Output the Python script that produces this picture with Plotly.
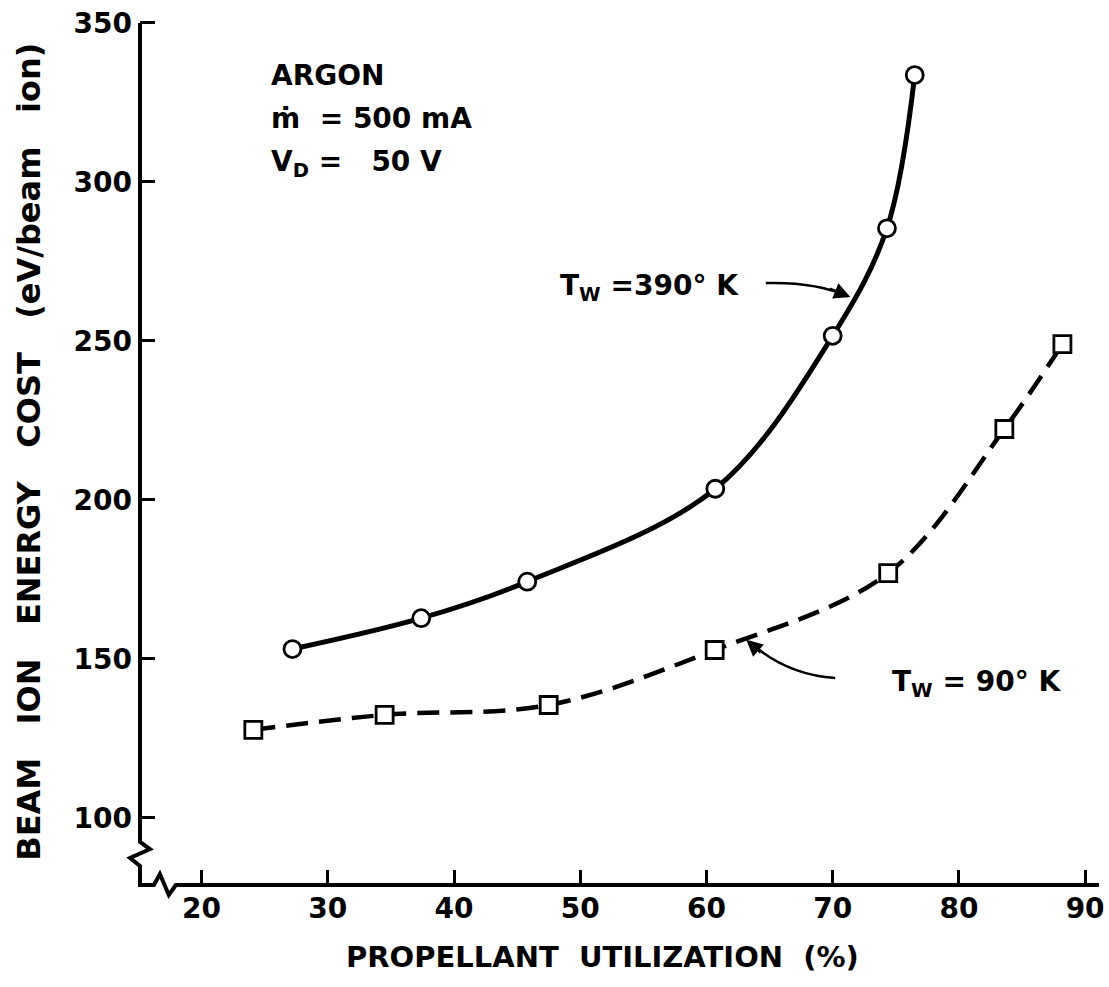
import plotly.graph_objects as go

# ---- data ----
tw390_util = [27.2, 37.4, 45.8, 60.7, 70.0, 74.3, 76.5]
tw390_cost = [153.1, 162.8, 174.3, 203.5, 251.6, 285.4, 333.6]
tw90_util = [24.1, 34.5, 47.5, 60.65, 74.4, 83.6, 88.2]
tw90_cost = [127.7, 132.4, 135.5, 152.8, 177.0, 222.3, 249.0]
x_ticks = [20, 30, 40, 50, 60, 70, 80, 90]
y_ticks = [100, 150, 200, 250, 300, 350]

# ---- layout geometry ----
W, H = 1109, 987
L, R, T, B = 140, 4, 7, 102
X_RANGE = [15.12, 91.1]
Y_RANGE = [78.9, 355.0]
PW, PH = W - L - R, H - T - B
FONT = "DejaVu Sans"
INK = "black"


def pxp(x):  # pixel -> paper x
    return (x - L) / PW


def pyp(y):  # pixel -> paper y
    return (H - B - y) / PH


fig = go.Figure()

fig.add_trace(go.Scatter(
    x=tw390_util, y=tw390_cost, mode="lines+markers",
    line=dict(color=INK, width=5, shape="spline", smoothing=1.0),
    marker=dict(symbol="circle", size=17, color="white",
                line=dict(color=INK, width=2.8)),
    showlegend=False))

fig.add_trace(go.Scatter(
    x=tw90_util, y=tw90_cost, mode="lines+markers",
    line=dict(color=INK, width=4.5, shape="spline", smoothing=1.0, dash="22px,11px"),
    marker=dict(symbol="square", size=17, color="white",
                line=dict(color=INK, width=2.8)),
    showlegend=False))

# axis lines with break marks
ax_pts = [(140, 23), (140, 842), (150, 849), (130, 858), (140, 866), (140, 885),
          (154, 885), (160, 874), (169, 895), (176, 885), (1105, 885)]
path = "M " + " L ".join(f"{pxp(a):.5f},{pyp(b):.5f}" for a, b in ax_pts)
shapes = [dict(type="path", xref="paper", yref="paper", path=path,
               line=dict(color=INK, width=4), layer="above")]

# curved leader lines
shapes.append(dict(type="path", xref="x", yref="y",
                   path="M 64.7,268.2 Q 68.7,268.6 71.2,264.0",
                   line=dict(color=INK, width=2.5)))
shapes.append(dict(type="path", xref="x", yref="y",
                   path="M 70.2,144.0 Q 66.3,145.0 63.4,155.4",
                   line=dict(color=INK, width=2.5)))

tf = dict(family=FONT, size=28, color=INK, weight="bold")
ann = []
ann.append(dict(x=71.4, y=263.8, ax=-22, ay=-9, text="", showarrow=True,
                arrowhead=2, arrowsize=1.3, arrowwidth=2.5, arrowcolor=INK))
ann.append(dict(x=63.15, y=156.0, ax=16, ay=14, text="", showarrow=True,
                arrowhead=2, arrowsize=1.3, arrowwidth=2.5, arrowcolor=INK))

ann.append(dict(xref="paper", yref="paper", x=pxp(270), y=pyp(76), xanchor="left",
                yanchor="middle", text="ARGON", showarrow=False, font=tf))
ann.append(dict(xref="paper", yref="paper", x=pxp(270), y=pyp(118), xanchor="left",
                yanchor="middle", text="ṁ  = 500 mA", showarrow=False, font=tf))
ann.append(dict(xref="paper", yref="paper", x=pxp(270), y=pyp(163), xanchor="left",
                yanchor="middle", text="V<sub>D</sub> =   50 V", showarrow=False, font=tf))
ann.append(dict(xref="paper", yref="paper", x=pxp(561), y=pyp(288), xanchor="left",
                yanchor="middle", text="T<sub>W</sub> =390° K", showarrow=False, font=tf))
ann.append(dict(xref="paper", yref="paper", x=pxp(895), y=pyp(683), xanchor="left",
                yanchor="middle", text="T<sub>W</sub> = 90° K", showarrow=False, font=tf))

# axis titles
ann.append(dict(xref="paper", yref="paper", x=pxp(605), y=pyp(957), xanchor="center",
                yanchor="middle", text="PROPELLANT  UTILIZATION  (%)", showarrow=False,
                font=dict(family=FONT, size=29, color=INK, weight="bold")))
ann.append(dict(xref="paper", yref="paper", x=pxp(28), y=pyp(452), xanchor="center",
                yanchor="middle", textangle=-90,
                text="BEAM   ION   ENERGY   COST   (eV/beam   ion)", showarrow=False,
                font=dict(family=FONT, size=32, color=INK, weight="bold")))

fig.update_layout(
    width=W, height=H,
    margin=dict(l=L, r=R, t=T, b=B),
    paper_bgcolor="white", plot_bgcolor="white",
    shapes=shapes, annotations=ann,
    xaxis=dict(range=X_RANGE, tickvals=x_ticks, ticktext=[str(v) for v in x_ticks],
               ticks="inside", ticklen=15, tickwidth=3, tickcolor=INK,
               showline=False, showgrid=False, zeroline=False,
               tickfont=dict(family=FONT, size=28, color=INK, weight="bold"),
               ticklabelstandoff=4, ticklabeloverflow="allow"),
    yaxis=dict(range=Y_RANGE, tickvals=y_ticks, ticktext=[str(v) for v in y_ticks],
               ticks="inside", ticklen=15, tickwidth=3, tickcolor=INK,
               showline=False, showgrid=False, zeroline=False,
               tickfont=dict(family=FONT, size=28, color=INK, weight="bold"),
               ticklabelstandoff=7),
)

fig.write_html("out.html")
